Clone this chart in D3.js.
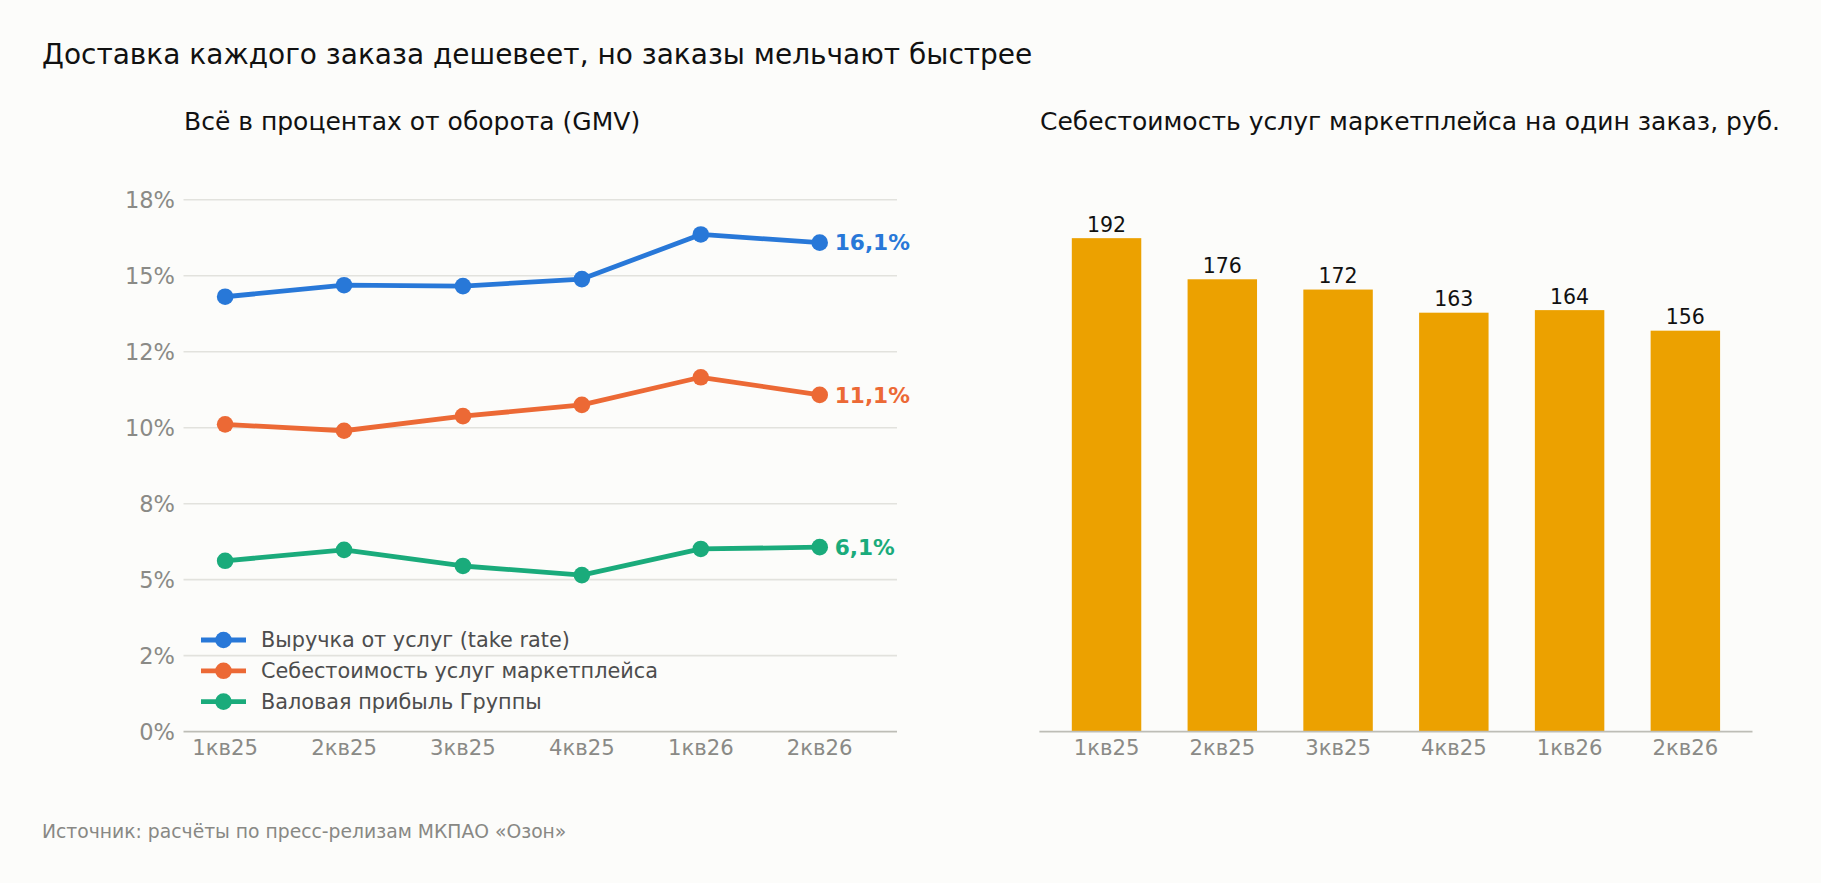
<!DOCTYPE html>
<html><head><meta charset="utf-8">
<script src="https://cdn.jsdelivr.net/npm/d3@7"></script>
<style>
html,body{margin:0;padding:0;background:#fcfcfa;}
svg{display:block;font-family:"DejaVu Sans",sans-serif;}
</style></head><body>
<svg id="c" width="1821" height="883"></svg>
<script>
const quarters = ["1кв25","2кв25","3кв25","4кв25","1кв26","2кв26"];
const takeRate = [14.31, 14.69, 14.66, 14.89, 16.36, 16.09];
const costShare = [10.11, 9.90, 10.38, 10.75, 11.66, 11.08];
const grossProfit = [5.62, 5.98, 5.45, 5.15, 6.01, 6.07];
const endLabels = ["16,1%", "11,1%", "6,1%"];
const seriesNames = ["Выручка от услуг (take rate)", "Себестоимость услуг маркетплейса", "Валовая прибыль Группы"];
const yTicks = [0, 2.5, 5, 7.5, 10, 12.5, 15, 17.5];
const yTickLabels = ["0%","2%","5%","8%","10%","12%","15%","18%"];
const costPerOrder = [192, 176, 172, 163, 164, 156];

const colors = ["#2878d8", "#ec6935", "#1aab7b"];
const barColor = "#eca100";

const svg = d3.select("#c");
svg.append("rect").attr("width",1821).attr("height",883).attr("fill","#fcfcfa");

svg.append("text").attr("x",42).attr("y",64).attr("font-size",28).attr("fill","#111")
  .text("Доставка каждого заказа дешевеет, но заказы мельчают быстрее");
svg.append("text").attr("x",184).attr("y",130).attr("font-size",25).attr("fill","#111")
  .text("Всё в процентах от оборота (GMV)");
svg.append("text").attr("x",1040).attr("y",130).attr("font-size",25).attr("fill","#111")
  .text("Себестоимость услуг маркетплейса на один заказ, руб.");
svg.append("text").attr("x",42).attr("y",838).attr("font-size",18.75).attr("fill","#888884")
  .text("Источник: расчёты по пресс-релизам МКПАО «Озон»");

// Left chart
const xL = d3.scaleLinear().domain([-0.35, 5.65]).range([183.5, 897]);
const yL = d3.scaleLinear().domain([0, 17.5]).range([731.6, 199.8]);
const gL = svg.append("g");
gL.selectAll("line.grid").data(yTicks.filter(d=>d>0)).join("line")
  .attr("x1",xL.range()[0]).attr("x2",xL.range()[1])
  .attr("y1",d=>yL(d)).attr("y2",d=>yL(d))
  .attr("stroke","#e2e2dd").attr("stroke-width",1.6);
gL.append("line").attr("x1",xL.range()[0]).attr("x2",xL.range()[1])
  .attr("y1",yL(0)).attr("y2",yL(0)).attr("stroke","#bdbdb6").attr("stroke-width",1.6);
gL.selectAll("text.yt").data(yTicks).join("text")
  .attr("x",175).attr("y",d=>yL(d)).attr("dy","0.36em").attr("text-anchor","end")
  .attr("font-size",22.5).attr("fill","#8a8a86").text((d,i)=>yTickLabels[i]);
gL.selectAll("text.xt").data(quarters).join("text")
  .attr("x",(d,i)=>xL(i)).attr("y",755).attr("text-anchor","middle")
  .attr("font-size",21.2).attr("fill","#8a8a86").text(d=>d);

const allSeries = [takeRate, costShare, grossProfit];
const line = d3.line().x((d,i)=>xL(i)).y(d=>yL(d));
allSeries.forEach((s,k)=>{
  gL.append("path").datum(s).attr("d",line).attr("fill","none")
    .attr("stroke",colors[k]).attr("stroke-width",4.8).attr("stroke-linejoin","round");
  gL.selectAll(null).data(s).join("circle")
    .attr("cx",(d,i)=>xL(i)).attr("cy",d=>yL(d)).attr("r",8.3).attr("fill",colors[k]);
  gL.append("text").attr("x",xL(5)+15).attr("y",yL(s[5])).attr("dy","0.36em")
    .attr("font-size",21.7).attr("font-weight","bold").attr("fill",colors[k]).text(endLabels[k]);
});

// legend
const legY = [640, 670.8, 701.6];
seriesNames.forEach((n,k)=>{
  gL.append("line").attr("x1",201).attr("x2",246).attr("y1",legY[k]).attr("y2",legY[k])
    .attr("stroke",colors[k]).attr("stroke-width",4.8);
  gL.append("circle").attr("cx",223.5).attr("cy",legY[k]).attr("r",8.3).attr("fill",colors[k]);
  gL.append("text").attr("x",261).attr("y",legY[k]).attr("dy","0.36em")
    .attr("font-size",20.8).attr("fill","#4d4d4d").text(n);
});

// Right chart
const xR = d3.scaleLinear().domain([-0.58, 5.58]).range([1039.4, 1752.5]);
const step = xR(1)-xR(0);
const yR = d3.scaleLinear().domain([0, 200]).range([731.6, 731.6-200*2.570]);
const gR = svg.append("g");
gR.selectAll("rect").data(costPerOrder).join("rect")
  .attr("x",(d,i)=>xR(i)-step*0.3).attr("width",step*0.6)
  .attr("y",d=>yR(d)).attr("height",d=>yR(0)-yR(d)).attr("fill",barColor);
gR.selectAll("text.v").data(costPerOrder).join("text")
  .attr("x",(d,i)=>xR(i)).attr("y",d=>yR(d)-6.5).attr("text-anchor","middle")
  .attr("font-size",20.5).attr("fill","#111").text(d=>d);
gR.append("line").attr("x1",xR.range()[0]).attr("x2",xR.range()[1])
  .attr("y1",yR(0)).attr("y2",yR(0)).attr("stroke","#bdbdb6").attr("stroke-width",1.6);
gR.selectAll("text.xt").data(quarters).join("text")
  .attr("x",(d,i)=>xR(i)).attr("y",755).attr("text-anchor","middle")
  .attr("font-size",21.2).attr("fill","#8a8a86").text(d=>d);
</script></body></html>
